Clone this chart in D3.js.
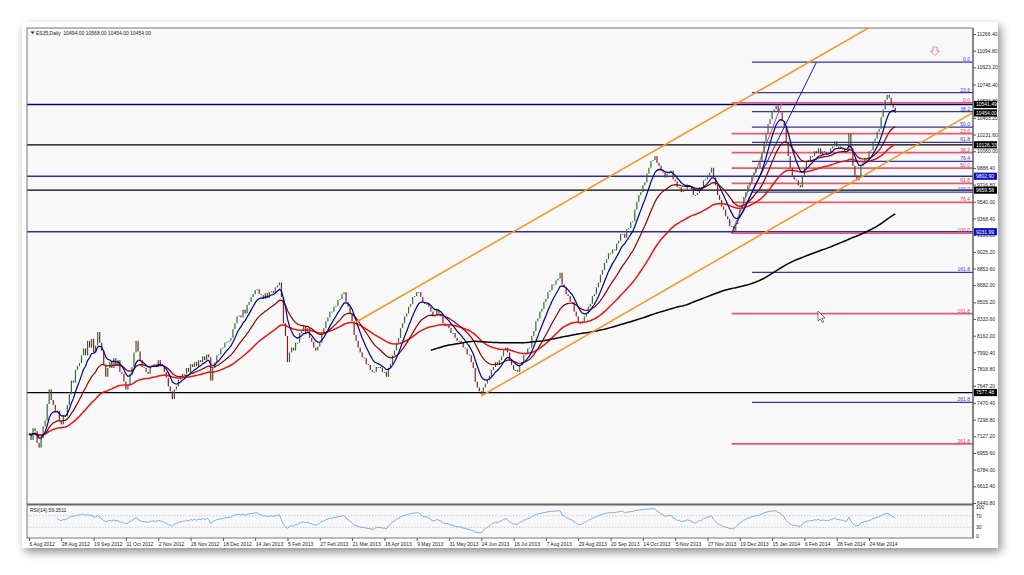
<!DOCTYPE html>
<html>
<head>
<meta charset="utf-8">
<script src="https://cdn.jsdelivr.net/npm/d3@7"></script>
<style>
body{margin:0;background:#fff;}
svg{display:block;font-family:"Liberation Sans",Arial,sans-serif;}
</style>
</head>
<body>
<svg id="chart" width="1024" height="575"></svg>
<script>

// daily closes, 6 Aug 2012 .. Apr 2014
var closes = [
7150,7090,7210,7180,7060,7010,7110,7230,7290,7460,
7610,7500,7450,7380,7390,7290,7250,7340,7330,7450,
7560,7700,7680,7810,7850,7880,7960,8030,7960,8110,
8040,8130,7990,8060,8200,8090,8010,7860,7740,7830,
7890,7830,7930,7850,7910,7790,7770,7690,7610,7660,
7770,7840,7990,8110,8000,7910,7840,7830,7790,7770,
7840,7860,7870,7840,7910,7870,7850,7790,7730,7640,
7590,7510,7610,7640,7710,7730,7770,7770,7830,7790,
7870,7840,7890,7850,7910,7890,7950,7910,7970,7940,
7700,7830,7890,7960,7970,8030,8040,8090,8100,8110,
8140,8230,8290,8360,8370,8350,8430,8390,8480,8510,
8560,8590,8630,8640,8590,8580,8540,8600,8550,8610,
8620,8600,8660,8680,8710,8560,8290,8160,7890,7990,
8040,8010,8090,8090,8190,8210,8260,8190,8240,8140,
8100,8040,8010,8050,8090,8190,8240,8310,8350,8410,
8410,8460,8470,8530,8540,8590,8610,8510,8460,8390,
8310,8170,8110,8040,7990,7940,7930,7870,7860,7810,
7790,7790,7840,7840,7830,7790,7790,7740,7830,7870,
7960,8010,8090,8140,8240,8290,8360,8390,8460,8490,
8560,8570,8610,8610,8560,8510,8490,8490,8460,8410,
8360,8370,8430,8390,8360,8290,8260,8270,8240,8190,
8190,8140,8110,8110,8090,8040,8030,7970,7960,7890,
7830,7690,7630,7590,7560,7630,7670,7710,7750,7810,
7840,7890,7860,7910,7950,8010,8040,7990,7910,7860,
7810,7810,7790,7860,7890,7960,7970,8030,8040,8160,
8210,8310,8340,8410,8440,8510,8540,8610,8630,8690,
8690,8730,8750,8810,8690,8660,8590,8570,8510,8510,
8410,8360,8290,8290,8310,8360,8390,8460,8490,8570,
8590,8660,8710,8790,8840,8910,8950,9010,9010,9050,
9040,9110,9140,9210,9210,9170,9260,9270,9330,9340,
9460,9540,9610,9640,9710,9740,9830,9890,9960,9970,
10010,9940,9910,9860,9840,9790,9830,9840,9860,9770,
9750,9690,9690,9640,9660,9670,9710,9690,9670,9610,
9610,9630,9690,9690,9760,9770,9810,9840,9890,9790,
9710,9610,9560,9490,9460,9390,9360,9290,9290,9240,
9310,9370,9460,9510,9590,9640,9710,9740,9810,9840,
9890,9890,9960,10040,10160,10240,10340,10390,10470,10490,
10530,10470,10460,10370,10310,10140,10010,9890,9810,9770,
9760,9710,9690,9810,9890,9960,9970,10010,10010,10060,
10040,10090,10030,10060,10050,10030,10040,10090,10110,10160,
10110,10110,10090,10090,10050,10060,10240,10090,9910,9810,
9760,9790,9910,9940,9990,9990,10060,10070,10160,10190,
10260,10290,10410,10490,10590,10640,10610,10540,10510,10454
]

var dateLabels = ["6 Aug 2012","28 Aug 2012","19 Sep 2012","11 Oct 2012","2 Nov 2012","26 Nov 2012",
"18 Dec 2012","14 Jan 2013","5 Feb 2013","27 Feb 2013","21 Mar 2013","16 Apr 2013","9 May 2013",
"31 May 2013","24 Jun 2013","16 Jul 2013","7 Aug 2013","29 Aug 2013","20 Sep 2013","14 Oct 2013",
"5 Nov 2013","27 Nov 2013","19 Dec 2013","15 Jan 2014","6 Feb 2014","28 Feb 2014","24 Mar 2014"]
var barsPerLabel = 16

var priceTicks = [11266.40,11094.80,10923.20,10746.40,10574.80,10403.20,10231.60,10060.00,9888.40,
9716.80,9540.00,9368.40,9196.80,9025.20,8853.60,8682.00,8505.20,8333.60,8162.00,7990.40,7818.80,
7647.20,7470.40,7298.80,7127.20,6955.60,6784.00,6612.40,6440.80]
var rsiTicks = [100,70,30,0]

var navyLevels = [10541.49, 9802.90, 9231.99]
var blackLevels = [10126.33, 9659.58, 7577.48]
var lastPrice = 10454.00

var fibRatios = [0, 23.6, 38.2, 50.0, 61.8, 76.4, 100.0, 161.8, 261.8]
var fibBlue = {start: 358, p0: 10978, p100: 9640}
var fibRed = {start: 348, p0: 10557, p100: 9217}

// [bar, price] anchors of drawn objects
var channelUpper = [[162, 8303], [332, 10330]]
var channelLower = [[224, 7542], [467, 10453]]
var blueTrend = [[348, 9217], [390, 10978]]
var redTrend = [[348, 9217], [373, 10557]]

var title = "ES35,Daily  10494.00 10568.00 10454.00 10454.00"
var rsiTitle = "RSI(14) 59.3511"

var svg = d3.select("#chart")
var defs = svg.append("defs")
var shadow = defs.append("filter").attr("id", "shadow")
  .attr("x", "-5%").attr("y", "-5%").attr("width", "112%").attr("height", "118%")
shadow.append("feDropShadow").attr("dx", 3).attr("dy", 4).attr("stdDeviation", 5)
  .attr("flood-color", "#000").attr("flood-opacity", 0.45)
defs.append("clipPath").attr("id", "clipPrice").append("rect")
  .attr("x", 27).attr("y", 28).attr("width", 946).attr("height", 476)
defs.append("clipPath").attr("id", "clipRsi").append("rect")
  .attr("x", 27).attr("y", 505).attr("width", 946).attr("height", 33)

svg.append("rect").attr("x", 22).attr("y", 22).attr("width", 976).attr("height", 526)
  .attr("fill", "#fff").attr("filter", "url(#shadow)")
svg.append("rect").attr("x", 27).attr("y", 28).attr("width", 946).attr("height", 510)
  .attr("fill", "#f8f8f8")

var xScale = d3.scaleLinear().domain([0, 467]).range([29, 972])
var yScale = d3.scaleLinear().domain([6440.8, 11266.4]).range([503, 34])
var rsiScale = d3.scaleLinear().domain([0, 100]).range([536, 507])

var price = svg.append("g").attr("clip-path", "url(#clipPrice)")

// full width levels
price.selectAll(".navy").data(navyLevels).enter().append("line")
  .attr("x1", 27).attr("x2", 973)
  .attr("y1", function(d){ return yScale(d) }).attr("y2", function(d){ return yScale(d) })
  .attr("stroke", function(d, i){ return i == 0 ? "#000080" : "#2a2aa6" })
  .attr("stroke-width", 1.6)
price.selectAll(".blk").data(blackLevels).enter().append("line")
  .attr("x1", 27).attr("x2", 973)
  .attr("y1", function(d){ return yScale(d) }).attr("y2", function(d){ return yScale(d) })
  .attr("stroke", "#000").attr("stroke-width", 1.3)

// fibonacci sets
var drawFib = function(fib, lineColor, textColor, width){
  var g = price.append("g")
  fibRatios.forEach(function(r){
    var p = fib.p0 - (fib.p0 - fib.p100) * r / 100
    g.append("line")
      .attr("x1", xScale(fib.start)).attr("x2", 973)
      .attr("y1", yScale(p)).attr("y2", yScale(p))
      .attr("stroke", lineColor).attr("stroke-width", width)
    g.append("text")
      .attr("x", 970).attr("y", yScale(p) - 1)
      .attr("text-anchor", "end")
      .attr("font-size", "5px")
      .attr("fill", textColor)
      .text(r.toFixed(1))
  })
}
drawFib(fibRed, "#e25a72", "#d8405c", 1.8)
drawFib(fibBlue, "#3434a8", "#3d3dc0", 1.3)

var lineP = d3.line()
  .x(function(d){ return xScale(d[0]) })
  .y(function(d){ return yScale(d[1]) })

price.append("path").datum(redTrend).attr("d", lineP)
  .attr("fill", "none").attr("stroke", "#d040a0").attr("stroke-width", 1)
price.append("path").datum(blueTrend).attr("d", lineP)
  .attr("fill", "none").attr("stroke", "#1a1ab0").attr("stroke-width", 1)

// candles
price.selectAll(".bar").data(closes).enter().append("rect")
  .attr("x", function(d, i){ return xScale(i) - 0.6 })
  .attr("width", 1.2)
  .attr("y", function(d, i){
    var o = i ? closes[i-1] : d
    return yScale(Math.max(o, d))
  })
  .attr("height", function(d, i){
    var o = i ? closes[i-1] : d
    return Math.max(1, Math.abs(yScale(o) - yScale(d)))
  })
  .attr("fill", function(d, i){
    var o = i ? closes[i-1] : d
    return d >= o ? "#2f6e2f" : "#7c2222"
  })

// moving averages
var ema = function(period){
  var k = 2 / (period + 1), prev = closes[0], out = []
  closes.forEach(function(c, i){
    prev = i == 0 ? c : c * k + prev * (1 - k)
    out.push([i, prev])
  })
  return out
}
var sma = function(period){
  var out = []
  for (var i = period - 1; i < closes.length; i++){
    out.push([i, d3.mean(closes.slice(i - period + 1, i + 1))])
  }
  return out
}
price.append("path").datum(ema(55)).attr("d", lineP)
  .attr("fill", "none").attr("stroke", "#ee1111").attr("stroke-width", 1.5)
price.append("path").datum(ema(21)).attr("d", lineP)
  .attr("fill", "none").attr("stroke", "#8b0000").attr("stroke-width", 1.2)
price.append("path").datum(ema(8)).attr("d", lineP)
  .attr("fill", "none").attr("stroke", "#00008b").attr("stroke-width", 1.2)
price.append("path").datum(sma(200)).attr("d", lineP)
  .attr("fill", "none").attr("stroke", "#000").attr("stroke-width", 1.5)

// channel
var extend = function(a){
  var slope = (a[1][1] - a[0][1]) / (a[1][0] - a[0][0])
  return [a[0], [467, a[0][1] + slope * (467 - a[0][0])]]
}
price.append("path").datum(extend(channelUpper)).attr("d", lineP)
  .attr("fill", "none").attr("stroke", "#f7941d").attr("stroke-width", 1.5)
price.append("path").datum(extend(channelLower)).attr("d", lineP)
  .attr("fill", "none").attr("stroke", "#f7941d").attr("stroke-width", 1.5)

// arrow and cursor
svg.append("path").attr("d", "M933,47 h4 v4 h2.5 l-4.5,4.5 l-4.5,-4.5 h2.5 z")
  .attr("fill", "#fff").attr("stroke", "#e06868").attr("stroke-width", 0.8)
svg.append("path").attr("d", "M818,311 v10 l2.4,-2.3 l1.8,3.8 l1.4,-0.7 l-1.8,-3.7 h3.3 z")
  .attr("fill", "#fff").attr("stroke", "#222").attr("stroke-width", 0.6)

// rsi
var rsi = []
var ag = 0, al = 0
for (var i = 1; i < closes.length; i++){
  var ch = closes[i] - closes[i-1]
  var g = ch > 0 ? ch : 0, l = ch < 0 ? -ch : 0
  if (i <= 14){
    ag += g / 14; al += l / 14
    if (i == 14) rsi.push([i, 100 - 100 / (1 + ag / al)])
  } else {
    ag = (ag * 13 + g) / 14; al = (al * 13 + l) / 14
    rsi.push([i, al == 0 ? 100 : 100 - 100 / (1 + ag / al)])
  }
}
var rsiG = svg.append("g").attr("clip-path", "url(#clipRsi)")
rsiG.selectAll(".lvl").data([70, 30]).enter().append("line")
  .attr("x1", 27).attr("x2", 973)
  .attr("y1", function(d){ return rsiScale(d) }).attr("y2", function(d){ return rsiScale(d) })
  .attr("stroke", "#b8b8b8").attr("stroke-width", 0.7).attr("stroke-dasharray", "1.5,1.5")
rsiG.append("path").datum(rsi)
  .attr("d", d3.line().x(function(d){ return xScale(d[0]) }).y(function(d){ return rsiScale(d[1]) }))
  .attr("fill", "none").attr("stroke", "#6ea6dc").attr("stroke-width", 0.9)

// frame lines
svg.append("rect").attr("x", 27).attr("y", 28).attr("width", 946).attr("height", 510)
  .attr("fill", "none").attr("stroke", "#777").attr("stroke-width", 1)
svg.append("line").attr("x1", 27).attr("x2", 973).attr("y1", 504.5).attr("y2", 504.5)
  .attr("stroke", "#666").attr("stroke-width", 2)

// axes
var yAxis = d3.axisRight(yScale).tickValues(priceTicks).tickSize(3).tickPadding(1)
  .tickFormat(d3.format(".2f"))
var ya = svg.append("g").attr("transform", "translate(973,0)").call(yAxis)
ya.select(".domain").remove()
ya.selectAll("text").attr("font-size", "5px").attr("fill", "#222").attr("font-family", "Liberation Sans")
ya.selectAll("line").attr("stroke", "#555")

var ra = svg.append("g").attr("transform", "translate(973,0)")
  .call(d3.axisRight(rsiScale).tickValues(rsiTicks).tickSize(0).tickPadding(3))
ra.select(".domain").remove()
ra.selectAll("text").attr("font-size", "5px").attr("fill", "#222").attr("font-family", "Liberation Sans")

var xAxis = d3.axisBottom(xScale)
  .tickValues(dateLabels.map(function(d, i){ return i * barsPerLabel }))
  .tickSize(3).tickPadding(1)
  .tickFormat(function(d, i){ return dateLabels[i] })
var xa = svg.append("g").attr("transform", "translate(0,538)").call(xAxis)
xa.select(".domain").remove()
xa.selectAll("text").attr("font-size", "5px").attr("fill", "#222")
  .attr("text-anchor", "start").attr("font-family", "Liberation Sans")
xa.selectAll("line").attr("stroke", "#555")

// price boxes on the axis
var boxes = []
navyLevels.slice(1).forEach(function(p){ boxes.push({p: p, c: "#1010c0"}) })
blackLevels.forEach(function(p){ boxes.push({p: p, c: "#000"}) })
boxes.push({p: navyLevels[0], c: "#000"})
boxes.push({p: lastPrice, c: "#000"})
var bx = svg.selectAll(".box").data(boxes).enter().append("g")
bx.append("rect")
  .attr("x", 974).attr("y", function(d){ return yScale(d.p) - 3.6 })
  .attr("width", 23).attr("height", 7.2).attr("fill", function(d){ return d.c })
bx.append("text")
  .attr("x", 976).attr("y", function(d){ return yScale(d.p) + 1.8 })
  .attr("font-size", "5px").attr("fill", "#fff")
  .text(function(d){ return d.p.toFixed(2) })

// titles
svg.append("path").attr("d", "M30.5,31.5 h4 l-2,2.5 z").attr("fill", "#222")
svg.append("text").attr("x", 36).attr("y", 34.5).attr("font-size", "5px").attr("fill", "#222")
  .attr("xml:space", "preserve").style("white-space", "pre").text(title)
svg.append("text").attr("x", 30).attr("y", 512).attr("font-size", "5px").attr("fill", "#222")
  .text(rsiTitle)

svg.append("line").attr("x1", 973).attr("x2", 973).attr("y1", 28).attr("y2", 538)
  .attr("stroke", "#555").attr("stroke-width", 1)

</script>
</body>
</html>
